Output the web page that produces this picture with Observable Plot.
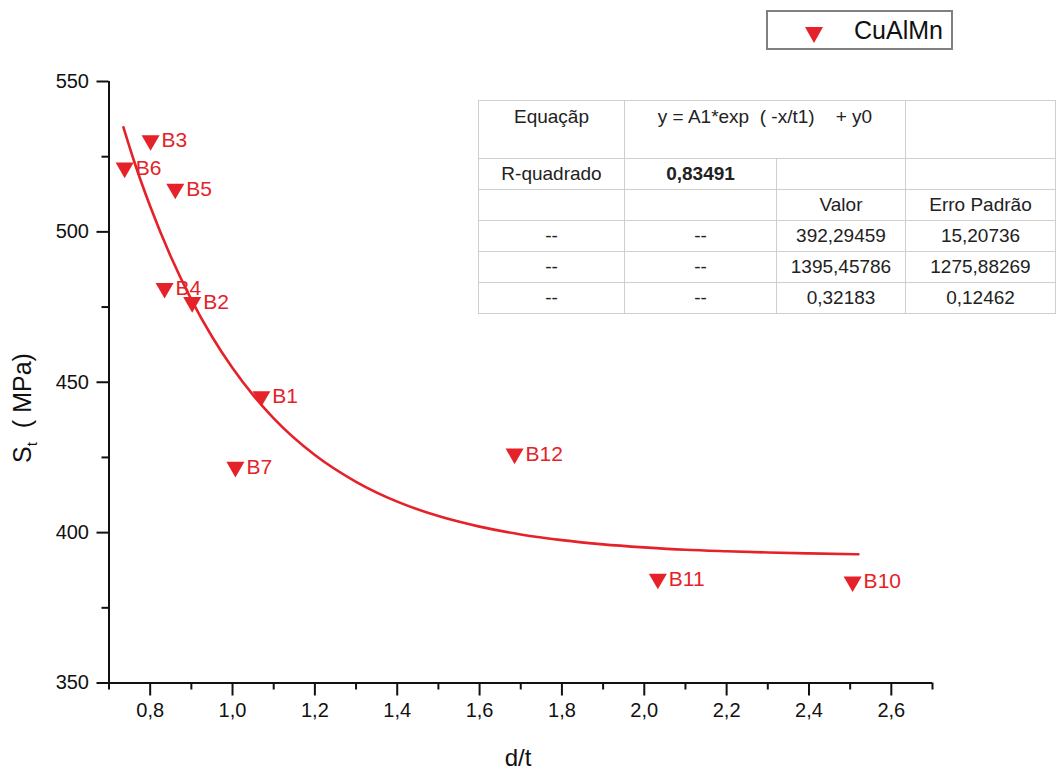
<!DOCTYPE html>
<html>
<head>
<meta charset="utf-8">
<script src="https://cdn.jsdelivr.net/npm/d3@7"></script>
<script src="https://cdn.jsdelivr.net/npm/@observablehq/plot@0.6"></script>
<style>
  body { margin: 0; background: #fff; }
  #wrap { position: relative; width: 1056px; height: 774px; font-family: "Liberation Sans", Arial, sans-serif; color: #111; overflow: hidden; }
  #wrap svg { position: absolute; left: 0; top: 0; }
  #wrap svg [aria-label$="tick label"], #wrap svg [aria-label$="tick label"] text { font-size: 20px !important; }
  #legend { position: absolute; left: 766px; top: 10px; width: 183px; height: 36px; border: 2px solid #808080; background: #fff; }
  #legend .sw { position: absolute; left: 37px; top: 15px; width: 0; height: 0; border-left: 9px solid transparent; border-right: 9px solid transparent; border-top: 16px solid #e52229; }
  #legend .lb { position: absolute; left: 86px; top: 3px; font-size: 25px; line-height: 30px; color: #111; }
  #fit { position: absolute; left: 478px; top: 100px; border-collapse: collapse; table-layout: fixed; width: 577px; font-size: 19px; color: #222; background: #fff; border: 1.5px solid #6e6e6e; }
  #fit td { border: 1px solid #cfcfcf; text-align: center; padding: 0; height: 30px; white-space: nowrap; }
  #fit tr.top td { height: 52px; vertical-align: top; padding-top: 5px; }
  #fit td.b { font-weight: bold; }
  #ytitle { position: absolute; left: -78px; top: 393px; width: 200px; height: 30px; line-height: 30px; text-align: center; font-size: 25px; transform: rotate(-90deg); color: #111; white-space: nowrap; }
  #ytitle sub { font-size: 15px; vertical-align: -6px; }
  #xtitle { position: absolute; left: 468px; top: 743px; width: 100px; height: 30px; line-height: 30px; text-align: center; font-size: 24px; color: #111; }
</style>
</head>
<body>
<div id="wrap">
  <div id="legend"><div class="sw"></div><div class="lb">CuAlMn</div></div>
  <table id="fit">
    <colgroup><col style="width:146px"><col style="width:152px"><col style="width:129px"><col style="width:150px"></colgroup>
    <tr class="top"><td>Equaçãp</td><td colspan="2">y = A1*exp&nbsp;&nbsp;( -x/t1)&nbsp;&nbsp;&nbsp;&nbsp;+ y0</td><td></td></tr>
    <tr><td>R-quadrado</td><td class="b">0,83491</td><td></td><td></td></tr>
    <tr><td></td><td></td><td>Valor</td><td>Erro Padrão</td></tr>
    <tr><td>--</td><td>--</td><td>392,29459</td><td>15,20736</td></tr>
    <tr><td>--</td><td>--</td><td>1395,45786</td><td>1275,88269</td></tr>
    <tr><td>--</td><td>--</td><td>0,32183</td><td>0,12462</td></tr>
  </table>
  <div id="ytitle">S<sub>t</sub>&nbsp;&nbsp;( MPa)</div>
  <div id="xtitle">d/t</div>
</div>
<script>
// Sample names and measured values
const names = ["B1", "B2", "B3", "B4", "B5", "B6", "B7", "B10", "B11", "B12"];
const dt    = [1.070, 0.902, 0.801, 0.835, 0.861, 0.738, 1.007, 2.506, 2.033, 1.685];
const st    = [445.3, 476.6, 530.4, 481.3, 514.3, 521.3, 421.8, 383.7, 384.6, 426.2];

// Fitted curve
const fitX = [0.735, 0.76, 0.8, 0.85, 0.9, 0.95, 1.0, 1.05, 1.1, 1.2, 1.3, 1.4, 1.5, 1.6, 1.7, 1.8, 1.9, 2.0, 2.1, 2.2, 2.3, 2.4, 2.52];
const fitY = [534.8, 523.9, 508.5, 491.8, 477.5, 465.2, 454.7, 445.7, 438.0, 425.8, 416.9, 410.3, 405.5, 402.0, 399.4, 397.5, 396.1, 395.1, 394.3, 393.8, 393.4, 393.1, 392.8];

// Axis ticks
const xTicks = [0.8, 1.0, 1.2, 1.4, 1.6, 1.8, 2.0, 2.2, 2.4, 2.6];
const xMinor = [0.7, 0.9, 1.1, 1.3, 1.5, 1.7, 1.9, 2.1, 2.3, 2.5, 2.7];
const yTicks = [350, 400, 450, 500, 550];
const yMinor = [375, 425, 475, 525];

const red = "#e52229";
const points = names.map((n, i) => ({name: n, x: dt[i], y: st[i]}));
const fit = fitX.map((x, i) => ({x, y: fitY[i]}));

const chart = Plot.plot({
  width: 1056,
  height: 774,
  marginLeft: 108.5,
  marginRight: 124,
  marginTop: 81,
  marginBottom: 91.5,
  style: {fontFamily: "'Liberation Sans', Arial, sans-serif", fontSize: "20px", background: "transparent", color: "#111"},
  x: {domain: [0.7, 2.7], label: null},
  y: {domain: [350, 550], label: null},
  marks: [
    Plot.axisX(xMinor, {tickSize: 7, tickFormat: () => "", strokeWidth: 2, label: null}),
    Plot.axisX(xTicks, {tickSize: 13, tickPadding: 7, fontSize: 20, strokeWidth: 2, label: null,
      tickFormat: d => d.toFixed(1).replace(".", ",")}),
    Plot.axisY(yMinor, {tickSize: 7, tickFormat: () => "", strokeWidth: 2, label: null}),
    Plot.axisY(yTicks, {tickSize: 12, tickPadding: 8, fontSize: 20, strokeWidth: 2, label: null}),
    Plot.ruleY([350], {strokeWidth: 2, stroke: "#111"}),
    Plot.ruleX([0.7], {y1: 350, y2: 550, strokeWidth: 2, stroke: "#111"}),
    Plot.line(fit, {x: "x", y: "y", stroke: red, strokeWidth: 2.6, curve: "monotone-x"}),
    Plot.dot(points, {x: "x", y: "y", symbol: "triangle", r: 6.7, rotate: 180, fill: red, stroke: "none"}),
    Plot.text(points, {x: "x", y: "y", text: "name", dx: 11, textAnchor: "start", fill: red, fontSize: 21})
  ]
});
document.getElementById("wrap").prepend(chart);
</script>
</body>
</html>
